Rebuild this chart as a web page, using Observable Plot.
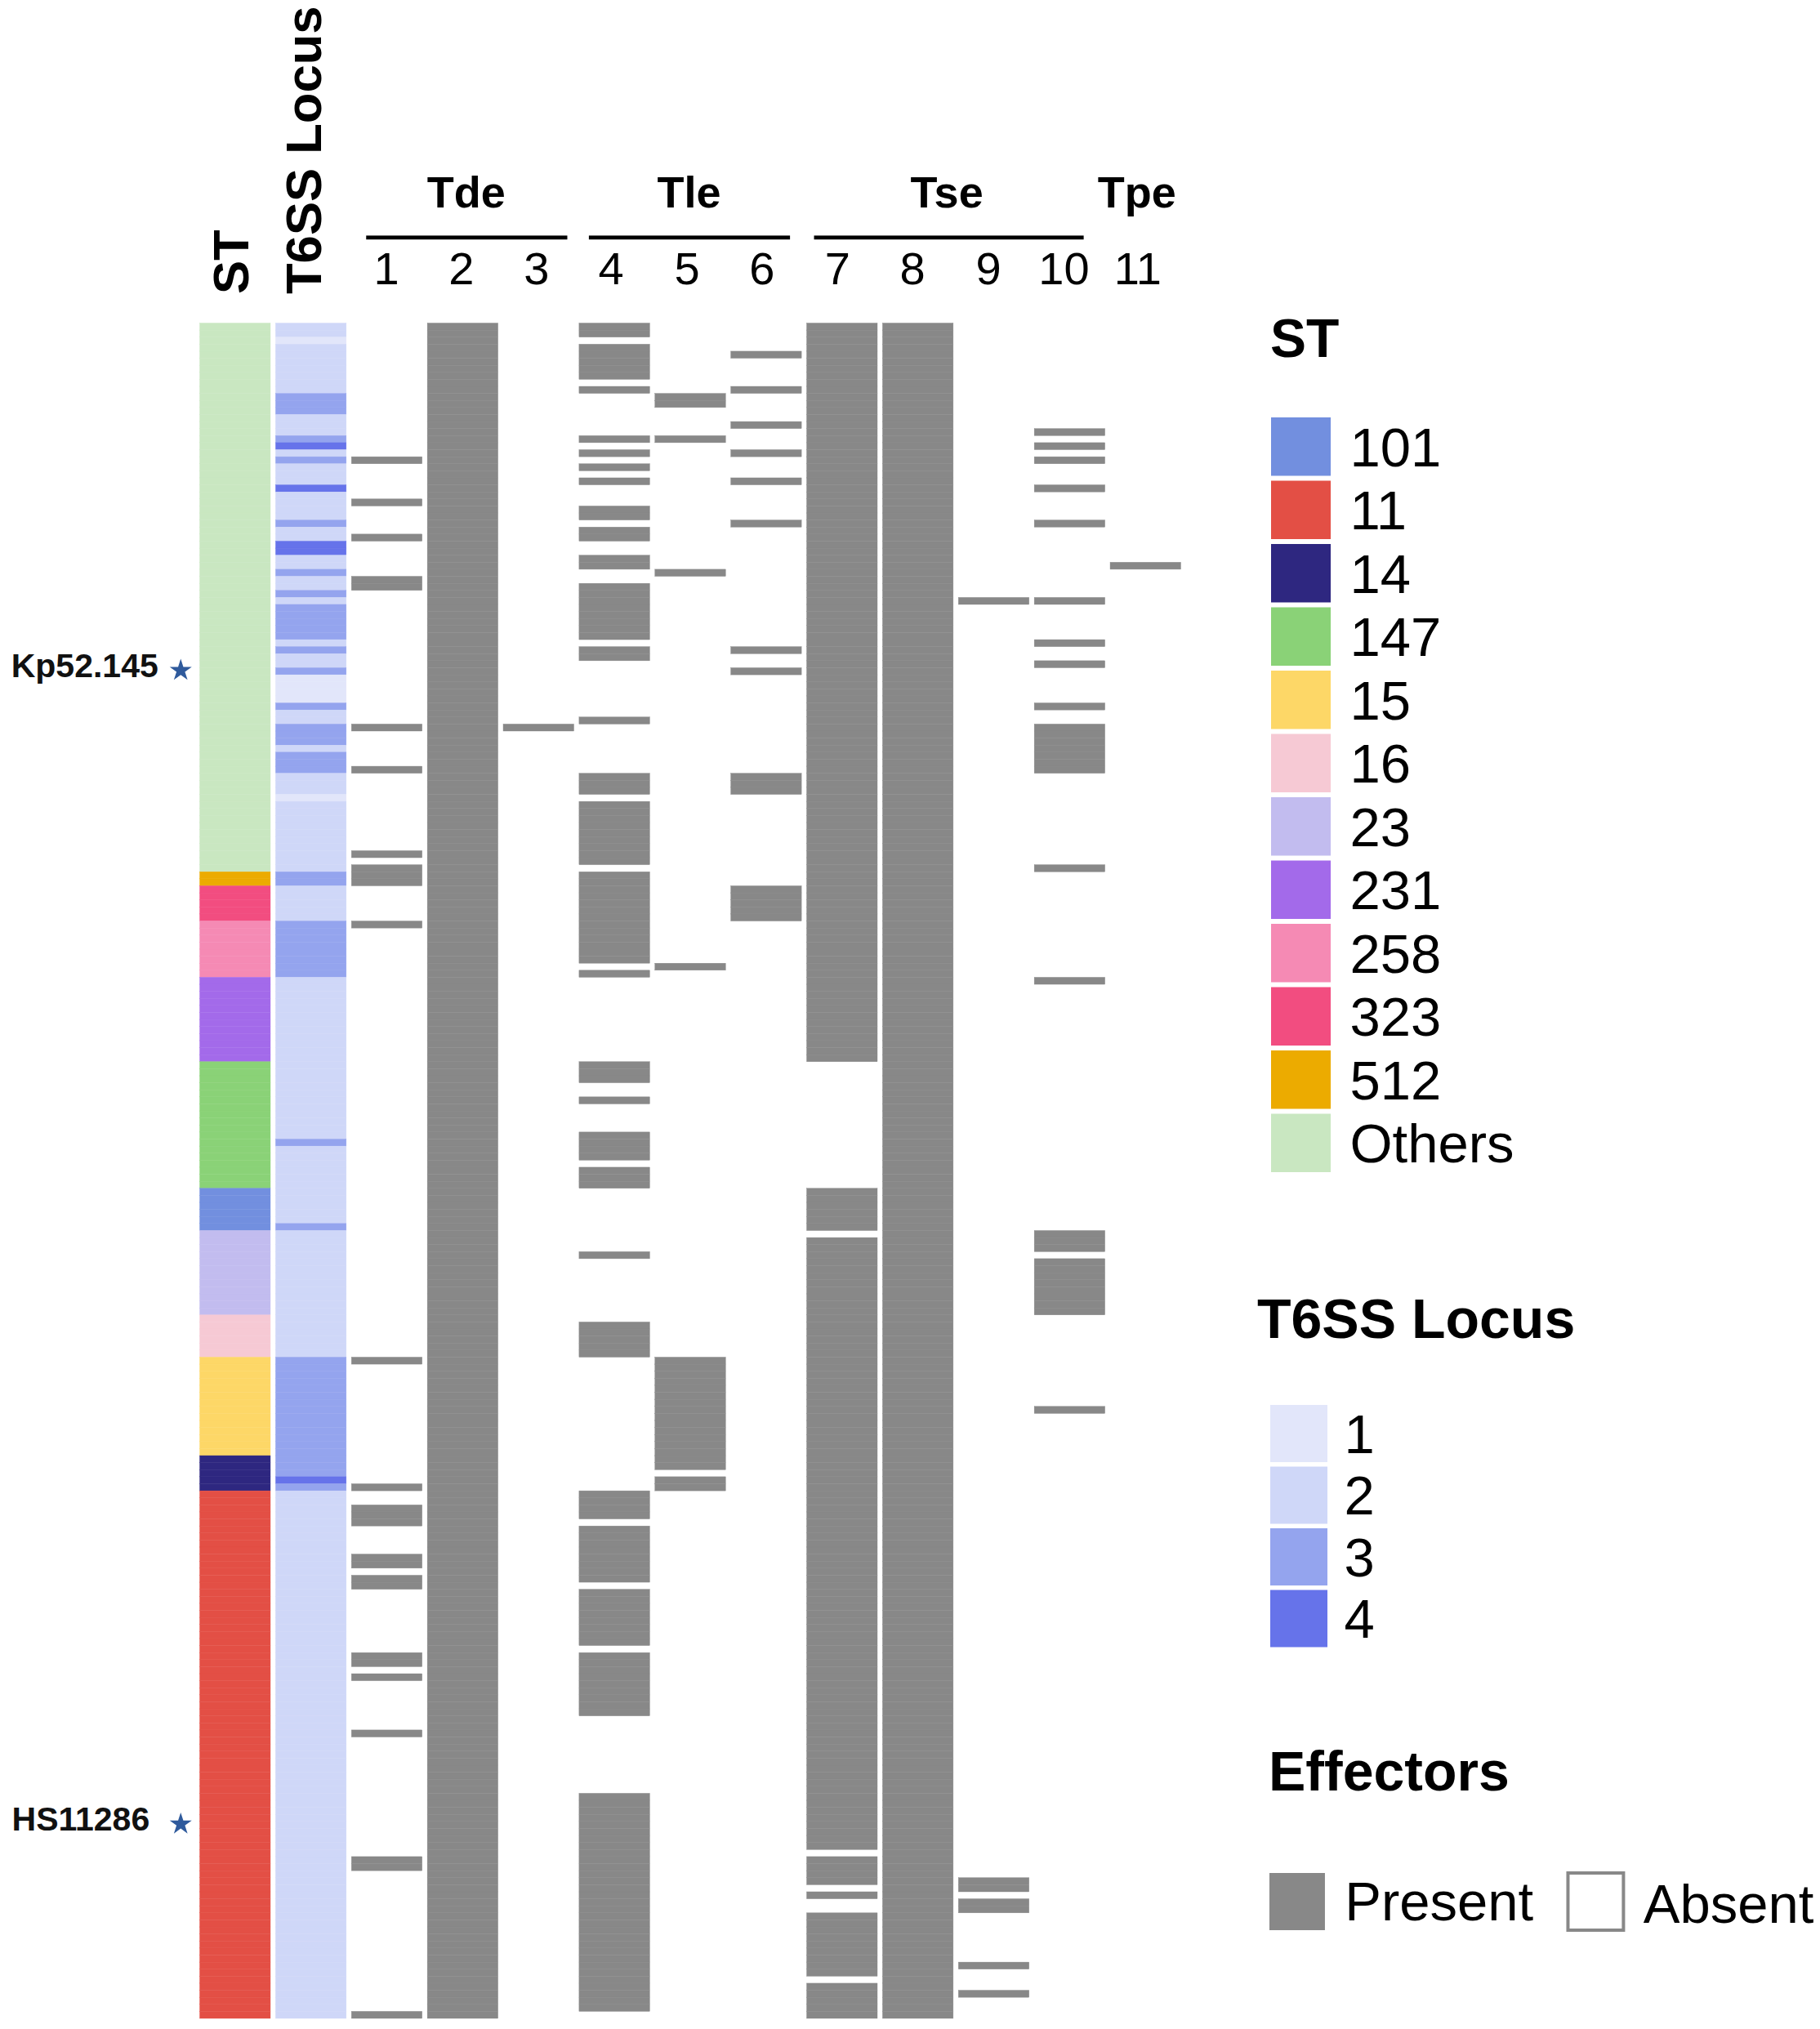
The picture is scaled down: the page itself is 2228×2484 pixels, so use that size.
<!DOCTYPE html>
<html>
<head>
<meta charset="utf-8">
<script src="https://cdn.jsdelivr.net/npm/d3@7"></script>
<script src="https://cdn.jsdelivr.net/npm/@observablehq/plot@0.6"></script>
<style>
  html, body { margin: 0; padding: 0; background: #fff; font-family: "Liberation Sans", Arial, sans-serif; }
  #page { position: relative; width: 2228px; height: 2484px; overflow: hidden; }
  #page > div { position: absolute; }
  .ttl { position: absolute; font-weight: bold; line-height: 1; color: #000; white-space: nowrap; }
</style>
</head>
<body>
<div id="page"></div>
<script>
// ---- Data: isolates are rows 0..240; each list holds [firstRow, endRowExclusive] runs
const rowCount = 241;

const stLabels = ["101","11","14","147","15","16","23","231","258","323","512","Others"];
const stColors = ["#728fdf","#e34f45","#2e2780","#8ad277","#fdd767","#f6c9d4","#c2bcef","#a36aea","#f58ab4","#f24d80","#ecab00","#c9e7c1"];
const stRuns = [["Others",0,78],["512",78,80],["323",80,85],["258",85,93],["231",93,105],["147",105,123],
  ["101",123,129],["23",129,141],["16",141,147],["15",147,161],["14",161,166],["11",166,241]];

const locusLabels = ["1","2","3","4"];
const locusColors = ["#e2e6fa","#cfd7f8","#94a4ee","#6673ea"];
const locusRuns = [["2",0,2],["1",2,3],["2",3,10],["3",10,13],["2",13,16],["3",16,17],["4",17,18],["2",18,19],["3",19,20],
  ["2",20,23],["4",23,24],["2",24,28],["3",28,29],["2",29,31],["4",31,33],["2",33,35],["3",35,36],["2",36,38],["3",38,39],
  ["2",39,40],["3",40,45],["2",45,46],["3",46,47],["2",47,49],["3",49,50],["1",50,54],["3",54,55],["2",55,57],["3",57,60],
  ["2",60,61],["3",61,64],["2",64,67],["1",67,68],["2",68,78],["3",78,80],["2",80,85],["3",85,93],["2",93,116],["3",116,117],
  ["2",117,128],["3",128,129],["2",129,147],["3",147,164],["4",164,165],["3",165,166],["2",166,241]];

const effector1 = [[19,20],[25,26],[30,31],[36,38],[57,58],[63,64],[75,76],[77,80],[85,86],[147,148],[165,166],[168,171],[175,177],[178,180],[189,191],[192,193],[200,201],[218,220],[240,241]];
const effector2 = [[0,241]];
const effector3 = [[57,58]];
const effector4 = [[0,2],[3,8],[9,10],[16,17],[18,19],[20,21],[22,23],[26,28],[29,31],[33,35],[37,45],[46,48],[56,57],[64,67],[68,77],[78,91],[92,93],[105,108],[110,111],[115,119],[120,123],[132,133],[142,147],[166,170],[171,179],[180,188],[189,198],[209,240]];
const effector5 = [[10,12],[16,17],[35,36],[91,92],[147,163],[164,166]];
const effector6 = [[4,5],[9,10],[14,15],[18,19],[22,23],[28,29],[46,47],[49,50],[64,67],[80,85]];
const effector7 = [[0,105],[123,129],[130,217],[218,222],[223,224],[226,235],[236,241]];
const effector8 = [[0,241]];
const effector9 = [[39,40],[221,223],[224,226],[233,234],[237,238]];
const effector10 = [[15,16],[17,18],[19,20],[23,24],[28,29],[39,40],[45,46],[48,49],[54,55],[57,64],[77,78],[93,94],[129,132],[133,141],[154,155]];
const effector11 = [[34,35]];

const effectorLabels = ["1","2","3","4","5","6","7","8","9","10","11"];
const effectorRuns = [effector1,effector2,effector3,effector4,effector5,effector6,effector7,effector8,effector9,effector10,effector11];

const groupFirst = ["1","4","7"];
const groupLast = ["3","6","10"];
const groupInsetLeft = [18,12,9];
const groupInsetRight = [8,14,26];
const groupLabelColumn = ["2","5","8","11"];
const groupLabelNames = ["Tde","Tle","Tse","Tpe"];
const groupLabelShift = [4,-2,35,-11];
const tickShift = [-1,-2,-3,-4.5,-4.5,-5.5,-6,-7,-7,-7.5,-10];

const headerNames = ["ST","T6SS Locus"];
const headerShift = [-28,-32];

const strainNames = ["Kp52.145","HS11286"];
const strainRows = [49,213];
const strainShift = [-94.5,-105];

const columns = [...headerNames,...effectorLabels];

// ---- Tables built from the lists
const runRows = (runs) => runs.flatMap(([a,b]) => d3.range(a,b));
const cells = [
  ...stRuns.flatMap(([k,a,b]) => d3.range(a,b).map(row => ({col:"ST", row, key:"ST "+k}))),
  ...locusRuns.flatMap(([k,a,b]) => d3.range(a,b).map(row => ({col:"T6SS Locus", row, key:"Locus "+k}))),
  ...effectorLabels.flatMap((c,i) => runRows(effectorRuns[i]).map(row => ({col:c, row, key:"Present"})))
];

const colorKeys = [...stLabels.map(d=>"ST "+d), ...locusLabels.map(d=>"Locus "+d), "Present", "Absent"];
const colorVals = [...stColors, ...locusColors, "#888888", "#ffffff"];
const colorScale = {type:"ordinal", domain:colorKeys, range:colorVals};

const page = document.getElementById("page");
const fontFamily = '"Liberation Sans", Arial, sans-serif';

// ---- Main chart
const chart = Plot.plot({
  width: 2228, height: 2484,
  marginTop: 395.5, marginBottom: 13, marginLeft: 241.3, marginRight: 779.3,
  style: {fontFamily, background:"transparent"},
  x: {type:"band", domain:columns, paddingInner:0.069, paddingOuter:0.0345, round:false, axis:null},
  y: {type:"band", domain:d3.range(rowCount), padding:0, round:false, axis:null},
  color: colorScale,
  marks: [
    Plot.cell(cells, {x:"col", y:"row", fill:"key", stroke:"key", strokeWidth:0.4}),
    ...effectorLabels.map((label,i) => Plot.text([label], {x:d=>d, text:d=>d, frameAnchor:"top", lineAnchor:"bottom",
      fontSize:56, fill:"#000", dx:tickShift[i], dy:-48})),
    ...headerNames.map((name,i) => Plot.text([name], {x:d=>d, text:d=>d, frameAnchor:"top", rotate:-90, textAnchor:"start",
      fontSize:61.6, fontWeight:"bold", fill:"#000", dx:headerShift[i], dy:-36})),
    ...groupFirst.map((first,i) => Plot.rect([first], {x1:d=>d, x2:()=>groupLast[i], y1:()=>0, y2:()=>0, fill:"#000", dy:-109,
      insetTop:1.9, insetBottom:1.9, insetLeft:groupInsetLeft[i], insetRight:groupInsetRight[i]})),
    ...groupLabelNames.map((name,i) => Plot.text([name], {x:()=>groupLabelColumn[i], text:d=>d, frameAnchor:"top", lineAnchor:"bottom",
      fontSize:54, fontWeight:"bold", fill:"#000", dx:groupLabelShift[i], dy:-142})),
    ...strainNames.map((name,i) => Plot.text([name], {x:()=>"ST", y:()=>strainRows[i], text:d=>d, textAnchor:"end",
      fontSize:41, fontWeight:"bold", fill:"#111", dx:strainShift[i], dy:-6.5})),
    Plot.dot(strainRows, {x:()=>"ST", y:d=>d, symbol:"star", r:8.5, fill:"#2f5a9c", dx:-67, dy:-1.5})
  ]
});
const chartBox = document.createElement("div");
chartBox.style.cssText = "left:0;top:0;";
chartBox.append(chart);
page.append(chartBox);

// ---- Legends
function addTitle(text, left, baseline, size) {
  const t = document.createElement("div");
  t.className = "ttl";
  t.textContent = text;
  t.style.left = left + "px";
  t.style.fontSize = size + "px";
  t.style.top = (baseline - size * 0.905 - (size - size * 1.149) / 2) + "px";
  page.append(t);
}
function swatches(labels, prefix, left, top, step, swatchW, swatchH, textGap, width) {
  const box = document.createElement("div");
  box.style.cssText = `left:${left}px;top:${top}px;`;
  box.append(Plot.plot({
    width, height: step * (labels.length - 1) + swatchH,
    marginTop:0, marginBottom:0, marginLeft:0, marginRight: width - swatchW,
    style:{fontFamily, background:"transparent", overflow:"visible"},
    x:{axis:null},
    y:{type:"band", domain:labels, paddingInner:1 - swatchH / step, paddingOuter:0, round:false, axis:null},
    color: colorScale,
    marks:[
      Plot.cell(labels, {y:d=>d, fill:d=>prefix+d}),
      Plot.text(labels, {y:d=>d, text:d=>d, frameAnchor:"left", textAnchor:"start", dx:textGap, fontSize:67, fill:"#000", dy:2})
    ]
  }));
  page.append(box);
}
addTitle("ST", 1555, 436, 66);
swatches(stLabels, "ST ", 1556, 511, 77.5, 73, 71.5, 96, 670);
addTitle("T6SS Locus", 1539, 1636, 68);
swatches(locusLabels, "Locus ", 1555, 1719.5, 75.5, 70, 70, 90, 670);
addTitle("Effectors", 1553, 2190, 68);

const effectorLegend = ["Present","Absent"];
const effectorLegendBox = document.createElement("div");
effectorLegendBox.style.cssText = "left:1550px;top:2290px;";
effectorLegendBox.append(Plot.plot({
  width:675, height:76, margin:0,
  style:{fontFamily, background:"transparent", overflow:"visible"},
  x:{type:"band", domain:effectorLegend, paddingInner:0.153, paddingOuter:0, round:false, axis:null},
  y:{axis:null},
  color: colorScale,
  marks:[
    Plot.cell(effectorLegend, {x:d=>d, fill:d=>d, stroke:d=>d==="Absent"?"#888888":"none", strokeWidth:4,
      insetTop:3, insetBottom:3, insetLeft:4, insetRight:237.6}),
    Plot.text(["Present"], {x:d=>d, text:d=>d, frameAnchor:"middle", textAnchor:"start", dx:-59, dy:1, fontSize:67, fill:"#000"}),
    Plot.text(["Absent"], {x:d=>d, text:d=>d, frameAnchor:"middle", textAnchor:"start", dx:-59, dy:4, fontSize:67, fill:"#000"})
  ]
}));
page.append(effectorLegendBox);
</script>
</body>
</html>
